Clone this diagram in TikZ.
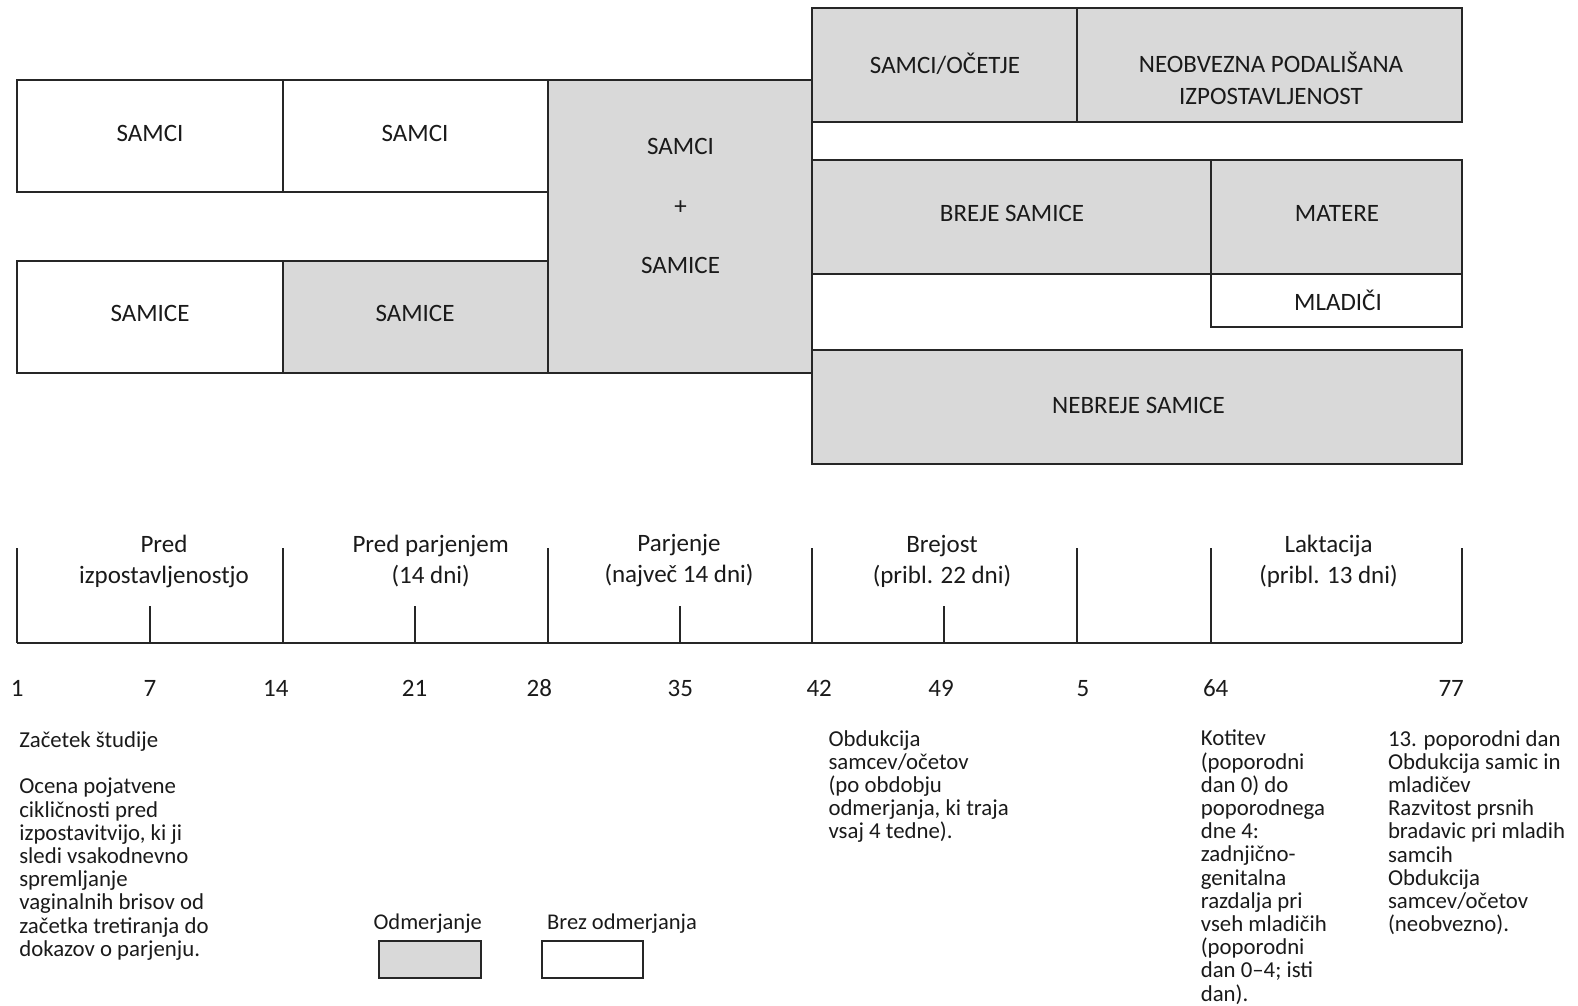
\documentclass[tikz,border=0pt]{standalone}
\usepackage{fontspec}
\setmainfont{Carlito}
\usetikzlibrary{fit}
\definecolor{gfill}{HTML}{D9D9D9}
\definecolor{lc}{HTML}{262626}
\definecolor{tc}{HTML}{1A1A1A}
\tikzset{
  box/.style={draw=lc, line width=2pt, inner sep=0pt},
  dosed/.style={box, fill=gfill},
  nodose/.style={box, fill=white},
  blab/.style={font=\fontsize{25}{32}\selectfont, text=tc, inner sep=0pt, align=center},
  tlab/.style={font=\fontsize{25}{31}\selectfont, text=tc, align=center, inner sep=0pt},
  num/.style={font=\fontsize{25}{30}\selectfont, text=tc, inner sep=0pt},
  note/.style={font=\fontsize{22.8}{23.2}\selectfont, text=tc, align=left, anchor=north west, inner sep=0pt},
  leg/.style={font=\fontsize{22.5}{26}\selectfont, text=tc, inner sep=0pt},
  tline/.style={draw=lc, line width=2pt},
}
\begin{document}
\begin{tikzpicture}[x=1pt,y=-1pt]
\useasboundingbox (0,0) rectangle (1578,1005);
% boxes
\node[nodose, fit={(17.1,79.5)(282.8,192.2)}] (b1) {};
\node[nodose, fit={(282.8,79.5)(547.5,192.2)}] (b2) {};
\node[nodose, fit={(17.1,260.7)(282.8,373.4)}] (b3) {};
\node[dosed, fit={(282.8,260.7)(547.5,373.4)}] (b4) {};
\node[dosed, fit={(547.5,79.5)(812.2,373.4)}] (b5) {};
\node[dosed, fit={(812.2,8)(1076.8,121.8)}] (b6) {};
\node[dosed, fit={(1076.8,8)(1462.3,121.8)}] (b7) {};
\node[dosed, fit={(812.2,160)(1210.7,273.7)}] (b8) {};
\node[dosed, fit={(1210.7,160)(1462.3,273.7)}] (b9) {};
\node[nodose, fit={(1210.7,273.7)(1462.3,327)}] (b10) {};
\node[dosed, fit={(812.2,350.2)(1462.3,464)}] (b11) {};
% box labels
\node[blab] (l1) at (150,133) {SAMCI};
\node[blab] (l2) at (415,133) {SAMCI};
\node[blab] (l3) at (150,313) {SAMICE};
\node[blab] (l4) at (415,313) {SAMICE};
\node[blab] (l5a) at (680.5,146) {SAMCI};
\node[blab] (l5b) at (680.5,208) {+};
\node[blab] (l5c) at (680.5,265.7) {SAMICE};
\node[blab] (l6) at (945,63.4) {SAMCI/OČETJE};
\node[blab] (l7) at (1271,78) {NEOBVEZNA PODALIŠANA\\IZPOSTAVLJENOST};
\node[blab] (l8) at (1012,213.4) {BREJE SAMICE};
\node[blab] (l9) at (1337,213.4) {MATERE};
\node[blab] (l10) at (1338,300) {MLADIČI};
\node[blab] (l11) at (1138.5,405.6) {NEBREJE SAMICE};
% timeline
\coordinate (t0) at (17.1,643.1);
\coordinate (t1) at (282.8,643.1);
\coordinate (t2) at (547.5,643.1);
\coordinate (t3) at (812.2,643.1);
\coordinate (t4) at (1076.8,643.1);
\coordinate (t5) at (1210.7,643.1);
\coordinate (t6) at (1462.3,643.1);
\coordinate (m1) at (150,643.1);
\coordinate (m2) at (414.6,643.1);
\coordinate (m3) at (680,643.1);
\coordinate (m4) at (944,643.1);
\draw[tline] (t0) -- (t6);
\foreach \t in {t0,t1,t2,t3,t4,t5,t6}{
  \draw[tline] (\t) -- ++(0,-95.6);
}
\foreach \m in {m1,m2,m3,m4}{
  \draw[tline] (\m) -- ++(0,-37.2);
}
% phase labels
\node[tlab] (p1) at (164,561) {Pred\\izpostavljenostjo};
\node[tlab] (p2) at (430.7,561) {Pred parjenjem\\(14 dni)};
\node[tlab] (p3) at (679,561) {Parjenje\\(največ 14 dni)};
\node[tlab] (p4) at (942,561) {Brejost\\(pribl. 22 dni)};
\node[tlab] (p5) at (1328.5,561) {Laktacija\\(pribl. 13 dni)};
% numbers
\node[num] (n1) at (17.1,688.4) {1};
\node[num] (n7) at (150,688.4) {7};
\node[num] (n14) at (275.8,688.4) {14};
\node[num] (n21) at (414.6,688.4) {21};
\node[num] (n28) at (539.4,688.4) {28};
\node[num] (n35) at (680.3,688.4) {35};
\node[num] (n42) at (819.2,688.4) {42};
\node[num] (n49) at (941,688.4) {49};
\node[num] (n5) at (1083,688.4) {5};
\node[num] (n64) at (1215.7,688.4) {64};
\node[num] (n77) at (1451.2,688.4) {77};
% notes
\node[note] (c1) at (19.1,731.5) {Začetek študije\\[23.2pt]Ocena pojatvene\\cikličnosti pred\\izpostavitvijo, ki ji\\sledi vsakodnevno\\spremljanje\\vaginalnih brisov od\\začetka tretiranja do\\dokazov o parjenju.};
\node[note] (c2) at (828.3,730) {Obdukcija\\samcev/očetov\\(po obdobju\\odmerjanja, ki traja\\vsaj 4 tedne).};
\node[note] (c3) at (1200.6,730) {Kotitev\\(poporodni\\dan 0) do\\poporodnega\\dne 4:\\zadnjično-\\genitalna\\razdalja pri\\vseh mladičih\\(poporodni\\dan 0–4; isti\\dan).};
\node[note] (c4) at (1387.8,730) {13. poporodni dan\\Obdukcija samic in\\mladičev\\Razvitost prsnih\\bradavic pri mladih\\samcih\\Obdukcija\\samcev/očetov\\(neobvezno).};
% legend
\node[leg] (g1) at (427.7,923.5) {Odmerjanje};
\node[leg] (g2) at (622,923.5) {Brez odmerjanja};
\node[dosed, fit={(379.4,941)(481,978.2)}] (k1) {};
\node[nodose, fit={(542.4,941)(643,978.2)}] (k2) {};
\end{tikzpicture}
\end{document}
